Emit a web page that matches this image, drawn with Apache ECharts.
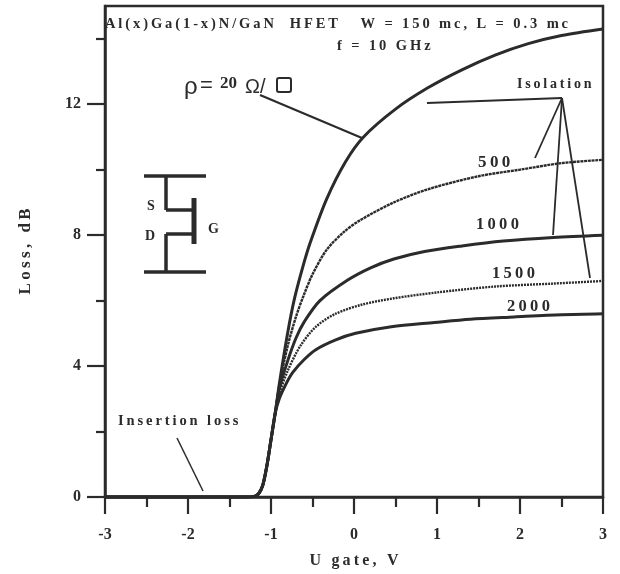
<!DOCTYPE html>
<html><head><meta charset="utf-8">
<style>html,body{margin:0;padding:0;background:#fff}#c{width:620px;height:574px}</style>
<script src="https://cdn.jsdelivr.net/npm/echarts@6/dist/echarts.min.js"></script>
</head><body><div id="c"></div>
<script>
const gateStart = [[-3,0],[-2,0],[-1.3,0],[-1.2,0.02],[-1.15,0.1],[-1.1,0.35],[-1.05,0.95],[-1,1.75],[-0.95,2.55]];
const rho20 = [[-0.9,3.45],[-0.8,5.0],[-0.72,6.03],[-0.62,7.0],[-0.53,7.75],[-0.33,9.1],[-0.1,10.25],[0.115,11.0],[0.5,11.85],[0.89,12.5],[1.3,13.05],[1.7,13.5],[2.1,13.85],[2.5,14.1],[3,14.3]];
const iso500 = [[-0.9,3.4],[-0.8,4.6],[-0.7,5.5],[-0.6,6.2],[-0.5,6.8],[-0.33,7.55],[-0.12,8.1],[0.07,8.45],[0.48,9.0],[0.89,9.4],[1.5,9.8],[2,10.0],[2.5,10.2],[3,10.3]];
const iso1000 = [[-0.9,3.3],[-0.8,4.15],[-0.7,4.85],[-0.6,5.35],[-0.41,6.0],[-0.08,6.62],[0.2,7.0],[0.48,7.27],[0.85,7.5],[1.3,7.67],[1.8,7.82],[2.4,7.93],[3,8.0]];
const iso1500 = [[-0.9,3.15],[-0.8,3.85],[-0.65,4.6],[-0.46,5.2],[-0.22,5.6],[0.1,5.88],[0.48,6.07],[1,6.25],[1.7,6.43],[2.4,6.52],[3,6.6]];
const iso2000 = [[-0.9,3.0],[-0.82,3.45],[-0.74,3.8],[-0.6,4.2],[-0.46,4.5],[-0.22,4.8],[0.02,5.0],[0.45,5.2],[0.97,5.33],[1.4,5.43],[1.93,5.5],[2.5,5.57],[3,5.6]];
const xTicks = [-3,-2,-1,0,1,2,3];
const yMajor = [0,4,8,12];
const yMinor = [2,6,10,14];
const ink = '#2b2b2b';
const serif = '"Liberation Serif","Times New Roman",serif';
const sp = t => t.split('').join('\u2009');

function curve(name, pts, width, dash){
  return {name, type:'line', smooth:0.3, showSymbol:false, symbol:'none', z:3, silent:true,
    data: gateStart.concat(pts),
    lineStyle:{color:ink, width, type: dash || 'solid'}};
}
function label(text,x,y,size,extra){
  return Object.assign({type:'text',x,y,z:20,style:{text,fill:ink,font:`bold ${size}px ${serif}`,textAlign:'left',textVerticalAlign:'middle'}},extra||{});
}
function seg(x1,y1,x2,y2,w){
  return {type:'line',z:20,shape:{x1,y1,x2,y2},style:{stroke:ink,lineWidth:w}};
}
const chart = echarts.init(document.getElementById('c'),null,{renderer:'canvas'});
chart.setOption({
  animation:false, backgroundColor:'#fff',
  grid:{left:105,right:17,top:6,bottom:77,outerBoundsMode:'none',show:true,borderColor:ink,borderWidth:2.5,backgroundColor:'transparent'},
  xAxis:{type:'value',min:-3,max:3,interval:1,
    axisLine:{onZero:false,lineStyle:{color:ink,width:2.5}},
    axisTick:{show:true,length:17,lineStyle:{color:ink,width:2.2}},
    minorTick:{show:true,splitNumber:2,length:10,lineStyle:{color:ink,width:2.2}},
    splitLine:{show:false},minorSplitLine:{show:false},
    axisLabel:{margin:30,color:ink,fontFamily:serif,fontWeight:'bold',fontSize:16,customValues:xTicks},
    name:sp('U gate, V'),nameLocation:'middle',nameGap:56,
    nameTextStyle:{color:ink,fontFamily:serif,fontWeight:'bold',fontSize:16}},
  yAxis:[{type:'value',min:0,max:15,
    axisLine:{onZero:false,lineStyle:{color:ink,width:2.5}},
    axisTick:{show:true,length:18,customValues:yMajor,lineStyle:{color:ink,width:2.2}},
    splitLine:{show:false},
    axisLabel:{margin:24,color:ink,fontFamily:serif,fontWeight:'bold',fontSize:16,customValues:yMajor},
    name:sp('Loss, dB'),nameLocation:'middle',nameGap:71,
    nameTextStyle:{color:ink,fontFamily:serif,fontWeight:'bold',fontSize:17}},
   {type:'value',min:0,max:15,position:'left',
    axisLine:{show:false,onZero:false},splitLine:{show:false},axisLabel:{show:false},
    axisTick:{show:true,length:9,customValues:yMinor,lineStyle:{color:ink,width:2.2}}}],
  series:[
    curve('rho=20',rho20,3),
    curve('500',iso500,2.4,[3,0.7]),
    curve('1000',iso1000,3),
    curve('1500',iso1500,2.4,[2,1]),
    curve('2000',iso2000,3)
  ],
  graphic:[
    label(sp('Al(x)Ga(1-x)N/GaN  HFET   W = 150 mc, L = 0.3 mc'),105,24,14.5),
    label(sp('f = 10 GHz'),337,46,14.5),
    label(sp('Isolation'),517,84,14),
    label(sp('500'),478,163,17),
    label(sp('1000'),476,225,16.5),
    label(sp('1500'),492,274,16.5),
    label(sp('2000'),507,307,16.5),
    label(sp('Insertion loss'),118,421,14.5),
    {type:'text',x:184,y:87,z:20,style:{text:'\u03c1',fill:ink,font:`24px "Liberation Sans",sans-serif`,textVerticalAlign:'middle'}},
    {type:'text',x:200,y:86,z:20,style:{text:'=',fill:ink,font:`22px "Liberation Sans",sans-serif`,textVerticalAlign:'middle'}},
    label('20',220,84,17),
    {type:'text',x:245,y:87,z:20,style:{text:'\u03a9/',fill:ink,font:`20px "Liberation Sans",sans-serif`,textVerticalAlign:'middle'}},
    {type:'rect',z:20,shape:{x:277,y:78,width:14,height:14,r:2},style:{fill:'none',stroke:ink,lineWidth:2}},
    seg(260,95,362,138,2.2),
    seg(427,103,562,98,1.8),
    seg(562,98,535,158,1.8),
    seg(562,98,553,235,1.8),
    seg(562,98,590,278,1.8),
    seg(177,438,203,491,1.5),
    seg(144,176,206,176,3.5),
    seg(144,272,206,272,3.5),
    seg(166,176,166,210,3.5),
    seg(166,210,194,210,3.5),
    seg(166,234,166,272,3.5),
    seg(166,234,194,234,3.5),
    seg(194,198,194,244,5),
    label('S',147,206,14),
    label('D',145,236,14),
    label('G',208,229,14)
  ]
});
</script></body></html>
